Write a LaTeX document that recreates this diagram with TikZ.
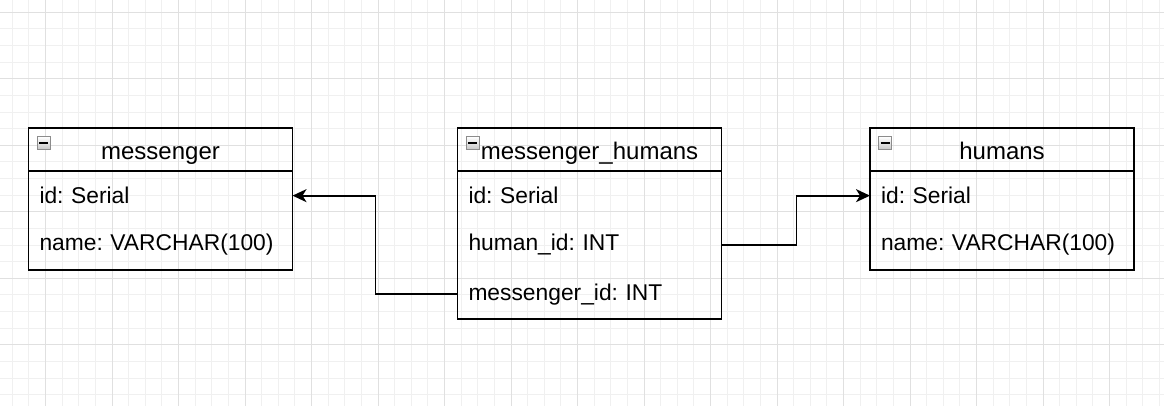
\documentclass[tikz,border=0pt]{standalone}
\usepackage{fontspec}
\setmainfont{Liberation Sans}
\usetikzlibrary{positioning,arrows.meta}
\frenchspacing

\tikzset{minor grid/.style={black!6,line width=1pt},
 major grid/.style={black!12,line width=1pt},
 tablehead/.style={draw,line width=1.8pt,minimum width=264pt,minimum height=43pt,
  inner sep=0pt,outer sep=0pt,text height=20pt,text depth=0pt,
  font=\fontsize{24}{28}\selectfont},
 tablerow/.style={minimum height=49.3pt,inner xsep=11pt,inner ysep=0pt,outer sep=0pt,
  text width=242pt,align=left,font=\fontsize{22.8}{28}\selectfont},
 tablebody/.style={draw,line width=1.8pt},
 link/.style={line width=1.8pt,-{Stealth[length=14pt,width=13pt,inset=4pt]}},
 pics/collapse/.style={code={
  \node[draw=black!45,line width=1pt,top color=white,bottom color=black!22,
   minimum size=13pt,inner sep=0pt] (-box) {};
  \draw[line width=1.8pt] ([xshift=2.5pt]-box.west) -- ([xshift=-2.5pt]-box.east);
 }}}

\begin{document}
\begin{tikzpicture}[x=1pt,y=-1pt]
\useasboundingbox (0,0) rectangle (1164,406);
\fill[white] (0,0) rectangle (1164,406);
% background grid
\foreach \i in {0,...,69}
 {\pgfmathsetmacro{\gx}{12.3+16.625*\i}
  \draw[minor grid] (\gx,0) -- (\gx,406);}
\foreach \j in {0,...,23}
 {\pgfmathsetmacro{\gy}{12.3+16.625*\j}
  \draw[minor grid] (0,\gy) -- (1164,\gy);}
\foreach \i in {2,6,...,70}
 {\pgfmathsetmacro{\gx}{12.3+16.625*\i}
  \draw[major grid] (\gx,0) -- (\gx,406);}
\foreach \j in {0,4,...,20}
 {\pgfmathsetmacro{\gy}{12.3+16.625*\j}
  \draw[major grid] (0,\gy) -- (1164,\gy);}

% messenger
\node[tablehead] (msg) at (160.5,149.5) {messenger};
\node[tablerow,below=0pt of msg] (msgid) {id: Serial};
\node[tablerow,below=0pt of msgid] (msgname) {name: VARCHAR(100)};
\draw[tablebody] (msgid.north west) rectangle (msgname.south east);
\pic (msgicon) at ([shift={(15,15)}]msg.north west) {collapse};

% messenger_humans
\node[tablehead] (mh) at (589.5,149.5) {messenger\_humans};
\node[tablerow,below=0pt of mh] (mhid) {id: Serial};
\node[tablerow,below=0pt of mhid] (mhhuman) {human\_id: INT};
\node[tablerow,below=0pt of mhhuman] (mhmsg) {messenger\_id: INT};
\draw[tablebody] (mhid.north west) rectangle (mhmsg.south east);
\pic (mhicon) at ([shift={(15,15)}]mh.north west) {collapse};

% humans
\node[tablehead] (hum) at (1002,149.5) {humans};
\node[tablerow,below=0pt of hum] (humid) {id: Serial};
\node[tablerow,below=0pt of humid] (humname) {name: VARCHAR(100)};
\draw[tablebody] (humid.north west) rectangle (humname.south east);
\pic (humicon) at ([shift={(15,15)}]hum.north west) {collapse};

% references
\draw[link] (mhmsg.west) -- ++(-82,0) |- (msgid.east);
\draw[link] (mhhuman.east) -- ++(75,0) |- (humid.west);
\end{tikzpicture}
\end{document}
